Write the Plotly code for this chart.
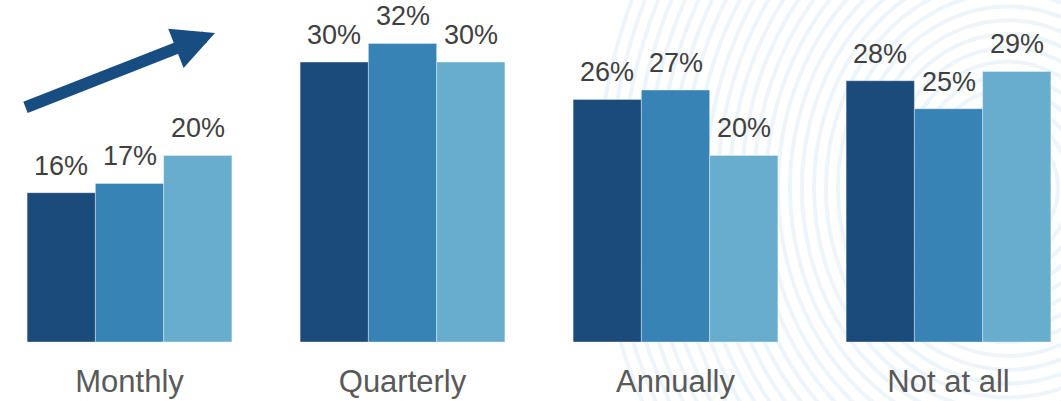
import plotly.graph_objects as go

# Survey results: how often the review happens, three waves per frequency
categories = ["Monthly", "Quarterly", "Annually", "Not at all"]
wave_1 = [16, 30, 26, 28]
wave_2 = [17, 32, 27, 25]
wave_3 = [20, 30, 20, 29]
series_names = ["Wave 1", "Wave 2", "Wave 3"]

colors = ["#1b4b7a", "#3883b5", "#68adcd"]
series = [wave_1, wave_2, wave_3]

W, H = 1061, 401
plot_bottom = 59
plot_h = H - plot_bottom

fig = go.Figure()
for name, vals, col in zip(series_names, series, colors):
    fig.add_trace(go.Bar(
        x=categories, y=vals, name=name,
        marker=dict(color=col, line=dict(color="rgba(255,255,255,0.35)", width=1)),
        hoverinfo="skip",
    ))

# value labels above each bar
bar_w = 0.75 / 3
annotations = []
for j, vals in enumerate(series):
    for i, v in enumerate(vals):
        annotations.append(dict(
            x=i + (j - 1) * bar_w, y=v, xref="x", yref="y",
            text=f"{v}%", showarrow=False, yanchor="middle", yshift=27,
            font=dict(family="Liberation Sans, Arial", size=27, color="#404040"),
        ))

# upward trend arrow
annotations.append(dict(
    x=215 / W, y=1 - 33 / plot_h, xref="paper", yref="paper",
    ax=-191, ay=75, text="", showarrow=True,
    arrowhead=2, arrowsize=0.7, arrowwidth=12, arrowcolor="#174d80", standoff=0,
))

# faint fingerprint-like ridges in the background
shapes = []
r = 14
while r < 420:
    shapes.append(dict(
        type="circle", xref="paper", yref="paper", layer="below",
        xsizemode="pixel", ysizemode="pixel",
        xanchor=0.95, yanchor=0.45,
        x0=-r, x1=r, y0=-r * 1.15, y1=r * 1.15,
        line=dict(color="rgba(214,232,245,0.45)", width=4),
    ))
    r += 12

# category spacing 273px, first group centred at 129.5px
unit = 273.0
x0 = -129.5 / unit
x1 = (W - 129.5) / unit
px_per_pct = 9.33

fig.update_layout(
    width=W, height=H,
    margin=dict(l=0, r=0, t=0, b=plot_bottom),
    paper_bgcolor="white", plot_bgcolor="rgba(0,0,0,0)",
    barmode="group", bargap=0.25, bargroupgap=0,
    showlegend=False,
    annotations=annotations,
    shapes=shapes,
    xaxis=dict(
        range=[x0, x1], showgrid=False, zeroline=False, showline=False,
        ticks="", ticklabelstandoff=18,
        tickfont=dict(family="Liberation Sans, Arial", size=31, color="#595959"),
        fixedrange=True,
    ),
    yaxis=dict(
        range=[0, plot_h / px_per_pct], visible=False, showgrid=False, zeroline=False,
        fixedrange=True,
    ),
)

fig.write_html("out.html", config={"displayModeBar": False})
